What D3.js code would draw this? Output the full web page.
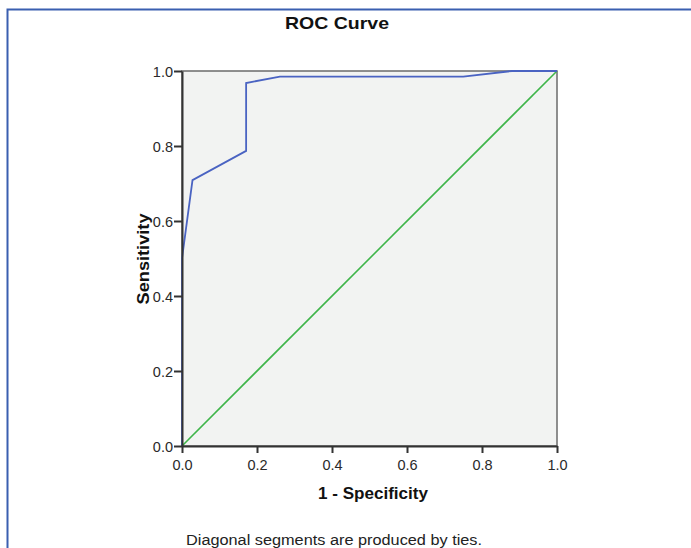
<!DOCTYPE html>
<html>
<head>
<meta charset="utf-8">
<script src="https://cdn.jsdelivr.net/npm/d3@7"></script>
<style>
  body { margin: 0; background: #fff; font-family: "Liberation Sans", Arial, sans-serif; }
</style>
</head>
<body>
<svg id="chart" width="691" height="548"></svg>
<script>
// ROC curve points (1 - specificity, sensitivity)
const fpr = [0, 0, 0.028, 0.171, 0.171, 0.261, 0.75, 0.88, 1.0];
const tpr = [0, 0.5, 0.709, 0.787, 0.968, 0.985, 0.985, 1.0, 1.0];
const refLine = [0, 1];
const ticks = [0, 0.2, 0.4, 0.6, 0.8, 1.0];

const svg = d3.select("#chart");

// outer frame
svg.append("path")
    .attr("d", "M7.5,548 V9.5 H691")
    .attr("fill", "none")
    .attr("stroke", "#3a5fb0")
    .attr("stroke-width", 2);

const plotLeft = 182, plotTop = 71, plotSize = 375;

const x = d3.scaleLinear().domain([0, 1]).range([plotLeft, plotLeft + plotSize]);
const y = d3.scaleLinear().domain([0, 1]).range([plotTop + plotSize, plotTop]);

svg.append("rect")
    .attr("x", plotLeft).attr("y", plotTop)
    .attr("width", plotSize).attr("height", plotSize)
    .attr("fill", "#f2f3f2")
    .attr("stroke", "#6b6b6b")
    .attr("stroke-width", 1.5);

// reference diagonal
svg.append("line")
    .attr("x1", x(refLine[0])).attr("y1", y(refLine[0]))
    .attr("x2", x(refLine[1])).attr("y2", y(refLine[1]))
    .attr("stroke", "#3fb54a")
    .attr("stroke-width", 1.6);

// ROC curve
const line = d3.line().x(d => x(d[0])).y(d => y(d[1]));
svg.append("path")
    .datum(fpr.map((f, i) => [f, tpr[i]]))
    .attr("d", line)
    .attr("fill", "none")
    .attr("stroke", "#4a63c2")
    .attr("stroke-width", 1.8);

// axes
const xAxis = svg.append("g")
    .attr("transform", `translate(0, ${plotTop + plotSize})`)
    .call(d3.axisBottom(x).tickValues(ticks).tickFormat(d3.format(".1f")).tickSize(7).tickSizeOuter(0));
const yAxis = svg.append("g")
    .attr("transform", `translate(${plotLeft}, 0)`)
    .call(d3.axisLeft(y).tickValues(ticks).tickFormat(d3.format(".1f")).tickSize(8).tickSizeOuter(0));

[xAxis, yAxis].forEach(g => {
    g.attr("font-size", null).attr("font-family", null);
    g.select(".domain").attr("stroke", "#333").attr("stroke-width", 2);
    g.selectAll(".tick line").attr("stroke", "#333").attr("stroke-width", 2);
    g.selectAll(".tick text")
        .attr("fill", "#2a2a2a")
        .style("font-family", "'Liberation Sans', Arial, sans-serif")
        .style("font-size", "14.5px");
});
xAxis.selectAll(".tick text").attr("dy", "0.95em");
yAxis.selectAll(".tick text").attr("x", -9).attr("dy", "0.35em");

// titles
svg.append("text")
    .attr("x", 337).attr("y", 29)
    .attr("text-anchor", "middle")
    .attr("textLength", 104).attr("lengthAdjust", "spacingAndGlyphs")
    .style("font-size", "17px").style("font-weight", "bold")
    .attr("fill", "#111")
    .text("ROC Curve");

svg.append("text")
    .attr("x", 373).attr("y", 499)
    .attr("text-anchor", "middle")
    .attr("textLength", 110).attr("lengthAdjust", "spacingAndGlyphs")
    .style("font-size", "16.5px").style("font-weight", "bold")
    .attr("fill", "#111")
    .text("1 - Specificity");

svg.append("text")
    .attr("transform", `translate(149, 259) rotate(-90)`)
    .attr("text-anchor", "middle")
    .attr("textLength", 91).attr("lengthAdjust", "spacingAndGlyphs")
    .style("font-size", "16.5px").style("font-weight", "bold")
    .attr("fill", "#111")
    .text("Sensitivity");

svg.append("text")
    .attr("x", 334).attr("y", 545)
    .attr("text-anchor", "middle")
    .attr("textLength", 296).attr("lengthAdjust", "spacingAndGlyphs")
    .style("font-size", "14px")
    .attr("fill", "#222")
    .text("Diagonal segments are produced by ties.");
</script>
</body>
</html>
